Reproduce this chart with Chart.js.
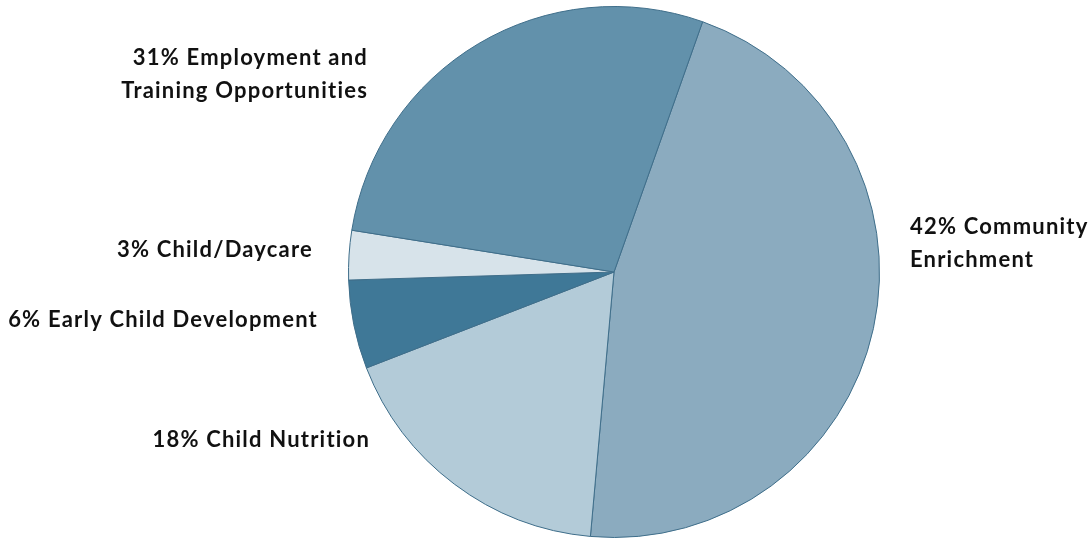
<!DOCTYPE html>
<html>
<head>
<meta charset="utf-8">
<script src="https://cdn.jsdelivr.net/npm/chart.js@4"></script>
<style>
  html, body { margin: 0; padding: 0; background: #fff; }
  #wrap { width: 1092px; height: 538px; position: relative; }
</style>
</head>
<body>
<div id="wrap"><canvas id="pie"></canvas></div>
<script>
// slices in clockwise order, starting from the top edge of Community Enrichment
const categories = ['Community Enrichment', 'Child Nutrition', 'Early Child Development', 'Child/Daycare', 'Employment and Training Opportunities'];
// share of the circle as drawn in the picture (the printed labels differ a bit)
const drawnShares = [46.0, 17.7, 5.4, 3.0, 27.9];
// label text as printed
const labelLines = [
  ['42% Community', 'Enrichment'],
  ['18% Child Nutrition'],
  ['6% Early Child Development'],
  ['3% Child/Daycare'],
  ['31% Employment and', 'Training Opportunities']
];
const sliceColors = ['#8BABBF', '#B3CBD8', '#3F7897', '#D7E3EA', '#6291AB'];

// where each label sits relative to the pie centre (px), and its alignment
const labelPlacement = [
  { dx: 296, dy: -45, align: 'left' },
  { dx: -244, dy: 168, align: 'right' },
  { dx: -296, dy: 48, align: 'right' },
  { dx: -301, dy: -22, align: 'right' },
  { dx: -246, dy: -214, align: 'right' }
];

const sliceLabels = {
  id: 'sliceLabels',
  afterDraw(chart) {
    const ctx = chart.ctx;
    const arc = chart.getDatasetMeta(0).data[0];
    const cx = arc.x, cy = arc.y;
    ctx.save();
    ctx.font = 'bold 22px Lato';
    ctx.letterSpacing = '1.2px';
    ctx.fillStyle = '#111';
    ctx.textBaseline = 'middle';
    labelLines.forEach((lines, i) => {
      const p = labelPlacement[i];
      ctx.textAlign = p.align;
      lines.forEach((txt, j) => {
        ctx.fillText(txt, cx + p.dx, cy + p.dy + j * 32.5);
      });
    });
    ctx.restore();
  }
};

const ctx = document.getElementById('pie').getContext('2d');
const pieChart = new Chart(ctx, {
  type: 'pie',
  data: {
    labels: categories,
    datasets: [{
      data: drawnShares,
      backgroundColor: sliceColors,
      borderColor: '#3F6E8A',
      borderWidth: 1
    }]
  },
  options: {
    responsive: true,
    maintainAspectRatio: false,
    animation: false,
    rotation: 19.5,
    layout: { padding: { left: 136, right: 0, top: 6, bottom: 0 } },
    plugins: {
      legend: { display: false },
      tooltip: { enabled: false }
    }
  },
  plugins: [sliceLabels]
});
</script>
</body>
</html>
